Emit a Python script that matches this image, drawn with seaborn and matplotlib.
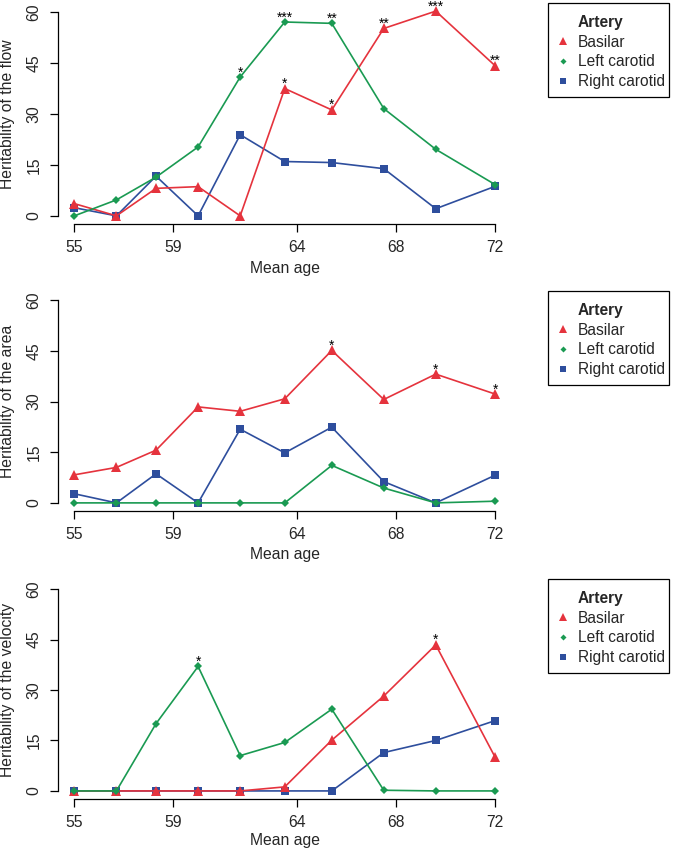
import matplotlib
matplotlib.use("Agg")
import matplotlib.pyplot as plt
from matplotlib.lines import Line2D
from matplotlib.patches import Rectangle
import seaborn as sns
import numpy as np
import pandas as pd

sns.set_style("white")
plt.rcParams['font.family'] = ['Liberation Sans', 'DejaVu Sans']

# ---------------- data ----------------
ages = [55, 56.7, 58.3, 60.0, 61.7, 63.5, 65.4, 67.5, 69.6, 72]
x_ticks = [55, 59, 64, 68, 72]
y_ticks = [0, 15, 30, 45, 60]
arteries = ["Basilar", "Left carotid", "Right carotid"]

flow_basilar = [3.6, 0, 8.1, 8.6, 0, 37.5, 31.2, 55.2, 60.3, 44.2]
flow_left = [0, 4.7, 11.4, 20.3, 40.9, 57.1, 56.7, 31.6, 19.6, 9.2]
flow_right = [2.4, 0, 11.7, 0, 23.9, 16.0, 15.7, 13.9, 2.1, 8.7]
flow_basilar_sig = ["", "", "", "", "", "*", "*", "**", "***", "**"]
flow_left_sig = ["", "", "", "", "*", "***", "**", "", "", ""]
flow_right_sig = [""] * 10

area_basilar = [8.3, 10.5, 15.6, 28.4, 27.1, 30.8, 45.1, 30.6, 38.1, 32.2]
area_left = [0, 0, 0, 0, 0, 0, 11.1, 4.4, 0, 0.5]
area_right = [2.7, 0, 8.6, 0, 21.8, 14.8, 22.4, 6.3, 0, 8.2]
area_basilar_sig = ["", "", "", "", "", "", "*", "", "*", "*"]
area_left_sig = [""] * 10
area_right_sig = [""] * 10

vel_basilar = [0, 0, 0, 0, 0, 1.2, 15.1, 28.2, 43.4, 10.0]
vel_left = [0, 0, 20.0, 37.0, 10.5, 14.4, 24.3, 0.2, 0, 0]
vel_right = [0, 0, 0, 0, 0, 0, 0, 11.4, 15.0, 20.9]
vel_basilar_sig = ["", "", "", "", "", "", "", "", "*", ""]
vel_left_sig = ["", "", "", "*", "", "", "", "", "", ""]
vel_right_sig = [""] * 10

y_labels = ["Heritability of the flow", "Heritability of the area",
            "Heritability of the velocity"]

# ---------------- styles ----------------
colors = {"Basilar": "#E5333D", "Left carotid": "#1A9A52", "Right carotid": "#2E4E9D"}
markers = {"Basilar": "^", "Left carotid": "D", "Right carotid": "s"}
msizes = {"Basilar": 6.8, "Left carotid": 3.6, "Right carotid": 5.8}
draw_order = ["Right carotid", "Basilar", "Left carotid"]

panels = [
    {"Basilar": (flow_basilar, flow_basilar_sig), "Left carotid": (flow_left, flow_left_sig),
     "Right carotid": (flow_right, flow_right_sig)},
    {"Basilar": (area_basilar, area_basilar_sig), "Left carotid": (area_left, area_left_sig),
     "Right carotid": (area_right, area_right_sig)},
    {"Basilar": (vel_basilar, vel_basilar_sig), "Left carotid": (vel_left, vel_left_sig),
     "Right carotid": (vel_right, vel_right_sig)},
]

W, H = 674, 849
fig = plt.figure(figsize=(W / 100, H / 100), dpi=100)

# axes boxes in pixels: (left, top, right, bottom)
boxes = [(57.5, 4, 512, 224), (57.5, 292, 512, 511), (57.5, 581, 512, 799)]
xlabel_offsets = [45, 44, 41]
legend_tops = [3, 291, 579]

FS = 11.3
LFS = 11.2
for i, (box, pdata) in enumerate(zip(boxes, panels)):
    l, t, r, b = box
    ax = fig.add_axes([l / W, 1 - b / H, (r - l) / W, (b - t) / H])
    for art in draw_order:
        vals, sig = pdata[art]
        df = pd.DataFrame({"age": ages, "h": vals})
        sns.lineplot(data=df, x="age", y="h", ax=ax, color=colors[art],
                     marker=markers[art], markersize=msizes[art],
                     markeredgewidth=0, linewidth=1.2, estimator=None)
        for xa, ya, s in zip(ages, vals, sig):
            if s:
                ax.annotate(s, (xa, ya), xytext=(0, 0.5), textcoords="offset points",
                            ha="center", va="baseline", fontsize=10, color="black",
                            annotation_clip=False)
    ax.set_xlim(54.32, 72.68)
    ax.set_ylim(-2.4, 62.4)
    ax.set_xticks(x_ticks)
    ax.set_yticks(y_ticks)
    ax.set_xticklabels([str(v) for v in x_ticks], fontsize=FS)
    ax.set_yticklabels([str(v) for v in y_ticks], fontsize=FS, rotation=90, va="center")
    for side in ["top", "right"]:
        ax.spines[side].set_visible(False)
    for side in ["left", "bottom"]:
        ax.spines[side].set_color("black")
        ax.spines[side].set_linewidth(0.9)
    ax.spines["left"].set_bounds(0, 60)
    ax.spines["bottom"].set_bounds(55, 72)
    ax.tick_params(axis="both", direction="out", length=5.5, width=0.9, color="black",
                   bottom=True, left=True)
    ax.tick_params(axis="x", pad=6)
    ax.tick_params(axis="y", pad=6)
    ax.grid(False)
    ax.set_xlabel("Mean age", fontsize=FS)
    ax.set_ylabel(y_labels[i], fontsize=FS)
    h_px = b - t
    ax.xaxis.set_label_coords(0.5, -xlabel_offsets[i] / h_px)
    ax.xaxis.label.set_va("center")
    ax.yaxis.set_label_coords((8 - l) / (r - l), 0.5)
    ax.yaxis.label.set_va("center")

    handles = [Line2D([], [], linestyle="none", marker=None)]
    labels = ["Artery"]
    for art in arteries:
        handles.append(Line2D([], [], linestyle="none", marker=markers[art],
                              color=colors[art], markersize=msizes[art] * 0.85,
                              markeredgewidth=0))
        labels.append(art)
    top = legend_tops[i]
    leg = ax.legend(handles, labels, loc="upper left",
                    bbox_to_anchor=(557.5 / W, 1 - (top + 12) / H),
                    bbox_transform=fig.transFigure, fontsize=LFS, frameon=False,
                    borderpad=0, labelspacing=0.3, handlelength=0.7,
                    handletextpad=0.62, borderaxespad=0)
    leg.get_texts()[0].set_fontweight("bold")
    fig.patches.append(Rectangle((548 / W, 1 - (top + 94) / H), 121 / W, 94 / H,
                                 transform=fig.transFigure, fill=False,
                                 edgecolor="black", linewidth=0.9))

fig.savefig("out.png", dpi=100)
